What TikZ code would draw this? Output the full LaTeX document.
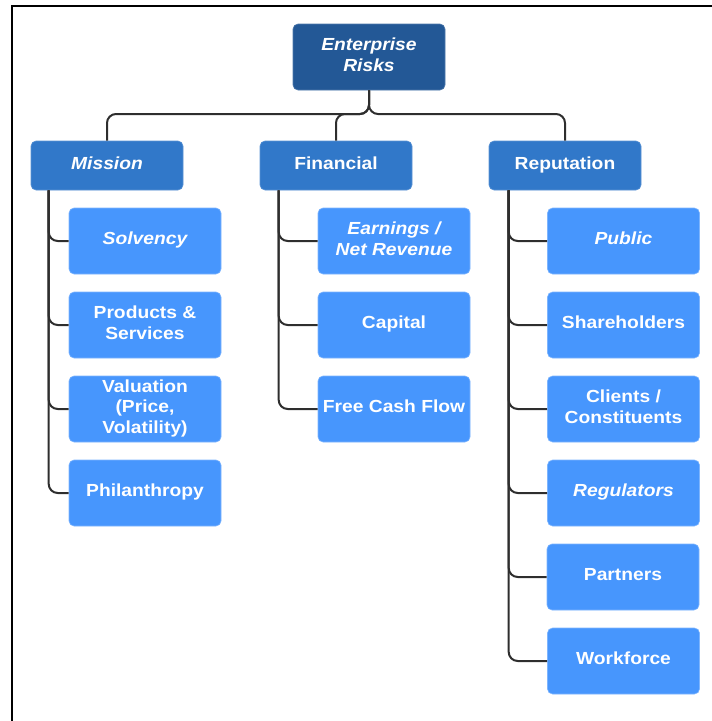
\documentclass[tikz,border=0pt]{standalone}
\usepackage{fontspec}
\setmainfont{Liberation Sans}[FakeStretch=1.1]
\definecolor{rootblue}{HTML}{235896}
\definecolor{midblue}{HTML}{3178C9}
\definecolor{leafblue}{HTML}{4796FD}
\definecolor{wire}{HTML}{2E2E2E}
\begin{document}
\begin{tikzpicture}[x=1pt,y=-1pt,
  box/.style={rectangle, rounded corners=5pt, text=white, align=center,
    font=\fontsize{17.5}{20.5}\selectfont\bfseries, inner sep=0pt,
    text depth=5pt, minimum width=152pt},
  rootbox/.style={box, fill=rootblue, draw=rootblue!80!white, line width=0.6pt, minimum height=66pt},
  catbox/.style={box, fill=midblue, draw=midblue!80!white, line width=0.6pt, minimum height=49pt},
  leafbox/.style={box, fill=leafblue, draw=leafblue!70!white, line width=0.6pt, minimum height=66pt},
  link/.style={draw=wire, line width=2pt, rounded corners=9pt},
  it/.style={font=\fontsize{17.5}{20.5}\selectfont\bfseries\itshape}]
\useasboundingbox (0,0) rectangle (712,721);
% outer frame
\draw[line width=2.6pt, black] (12,721) -- (12,6) -- (712,6);

% root and categories
\node[rootbox, it] (root) at (369,57) {Enterprise\\Risks};
\node[catbox, it] (mission) at (107,165.5) {Mission};
\node[catbox] (fin) at (336,165.5) {Financial};
\node[catbox] (rep) at (565,165.5) {Reputation};

% leaves: mission
\node[leafbox, it] (solv) at (145,241) {Solvency};
\node[leafbox] (prod) at (145,325) {Products \&\\Services};
\node[leafbox] (val) at (145,409) {Valuation\\(Price,\\Volatility)};
\node[leafbox] (phil) at (145,493) {Philanthropy};

% leaves: financial
\node[leafbox, it] (earn) at (394,241) {Earnings /\\Net Revenue};
\node[leafbox] (cap) at (394,325) {Capital};
\node[leafbox] (fcf) at (394,409) {Free Cash Flow};

% leaves: reputation
\node[leafbox, it] (pub) at (623.5,241) {Public};
\node[leafbox] (share) at (623.5,325) {Shareholders};
\node[leafbox] (cli) at (623.5,409) {Clients /\\Constituents};
\node[leafbox, it] (regu) at (623.5,493) {Regulators};
\node[leafbox] (part) at (623,577) {Partners};
\node[leafbox] (work) at (623.5,661) {Workforce};

% top level connectors
\coordinate (bar) at (369,114);
\draw[link] (root.south) -- (bar) -| (mission.north);
\draw[link] (root.south) -- (bar) -| (rep.north);
\draw[link] (root.south) -- (bar) -| (fin.north);

% branch trunks
\coordinate (mt) at ([xshift=18pt]mission.south west);
\coordinate (ft) at ([xshift=19pt]fin.south west);
\coordinate (rt) at ([xshift=20pt]rep.south west);
\foreach \c in {solv,prod,val,phil} \draw[link] (mt) |- (\c.west);
\foreach \c in {earn,cap,fcf} \draw[link] (ft) |- (\c.west);
\foreach \c in {pub,share,cli,regu,part,work} \draw[link] (rt) |- (\c.west);
\end{tikzpicture}
\end{document}
